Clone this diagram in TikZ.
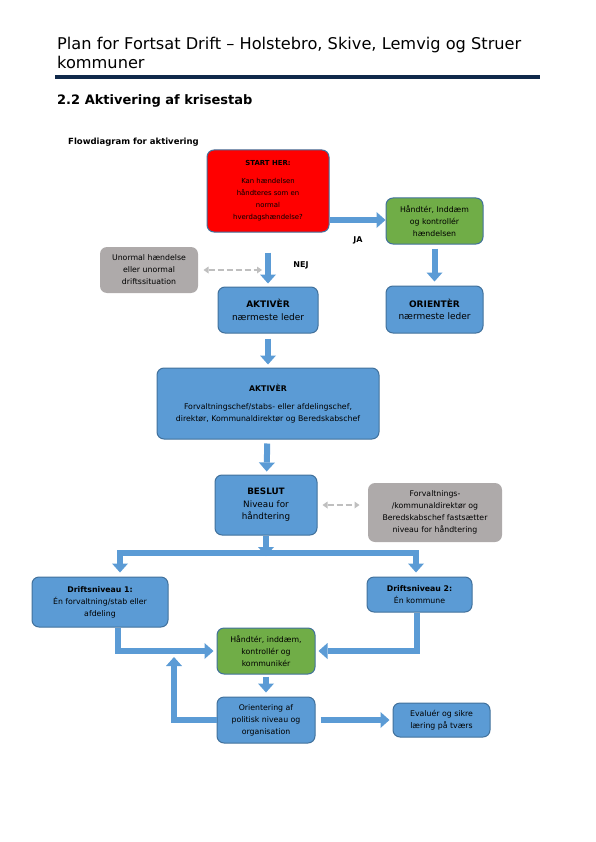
\documentclass[tikz,border=0pt]{standalone}
\usepackage{fontspec}
\setmainfont{DejaVu Sans}
\usetikzlibrary{arrows.meta}
\definecolor{boxblue}{HTML}{5B9BD5}
\definecolor{boxedge}{HTML}{41719C}
\definecolor{alarmred}{HTML}{FF0000}
\definecolor{okgreen}{HTML}{70AD47}
\definecolor{notegrey}{HTML}{AEAAAA}
\definecolor{hintgrey}{HTML}{BFBFBF}
\definecolor{rulenavy}{HTML}{10294A}
\tikzset{
  box node/.style={
    rounded corners=7pt,
    draw=boxedge, line width=1pt,
    fill=boxblue,
    align=center,
    font=\fontsize{7.8}{12}\selectfont,
    inner sep=2pt,
  },
  note node/.style={box node, draw=none, fill=notegrey},
  flow line/.style={draw=boxblue, line width=6pt},
  flow arrow/.style={
    flow line,
    -{Triangle[width=16pt,length=9pt,line width=0pt]},
  },
  hint arrow/.style={
    draw=hintgrey, line width=2.5pt, dash pattern=on 6pt off 3pt,
    {Triangle[width=7pt,length=5pt,line width=0pt]}-{Triangle[width=7pt,length=5pt,line width=0pt]},
  },
}

\begin{document}
\begin{tikzpicture}[x=1pt, y=-1pt]
        \useasboundingbox (0,0) rectangle (595,842);

        % page heading
        \node[anchor=base west, inner sep=0, font=\fontsize{16.2}{20}\selectfont] (title)  at (57,50) {Plan for Fortsat Drift – Holstebro, Skive, Lemvig og Struer};
        \node[anchor=base west, inner sep=0, font=\fontsize{16.2}{20}\selectfont] (title2) at (57,69) {kommuner};
        \draw[rulenavy, line width=4.5pt] (55,77) -- (540,77);
        \node[anchor=base west, inner sep=0, font=\bfseries\fontsize{13}{15}\selectfont] (section)   at (57,105)  {2.2 Aktivering af krisestab};
        \node[anchor=base west, inner sep=0, font=\bfseries\fontsize{8.5}{10}\selectfont] (flowtitle) at (68,145) {Flowdiagram for aktivering};

        % boxes
        \node[box node, fill=alarmred, minimum width=122pt, minimum height=82pt, font=\fontsize{6.9}{12}\selectfont] (start) at (268,191)
          {\textbf{START HER:}\\[6pt] Kan hændelsen\\ håndteres som en\\ normal\\ hverdagshændelse?};
        \node[box node, fill=okgreen, minimum width=97pt, minimum height=46pt] (handle1) at (434.5,221)
          {Håndtér, Inddæm\\ og kontrollér\\ hændelsen};
        \node[note node, minimum width=98pt, minimum height=46pt] (unusual) at (149,270)
          {Unormal hændelse\\ eller unormal\\ driftssituation};
        \node[box node, minimum width=100pt, minimum height=46pt, font=\fontsize{9}{12.5}\selectfont] (lead) at (268,310)
          {\textbf{AKTIVÈR}\\ nærmeste leder};
        \node[box node, minimum width=97pt, minimum height=47pt, font=\fontsize{9}{12.5}\selectfont] (orientlead) at (434.5,309.5)
          {\textbf{ORIENTÈR}\\ nærmeste leder};
        \node[box node, minimum width=222pt, minimum height=71pt] (chiefs) at (268,403.5)
          {\textbf{AKTIVÈR}\\[6pt] Forvaltningschef/stabs- eller afdelingschef,\\ direktør, Kommunaldirektør og Beredskabschef};
        \node[box node, minimum width=102pt, minimum height=60pt, font=\fontsize{8.8}{12.5}\selectfont] (decide) at (266,505)
          {\textbf{BESLUT}\\ Niveau for\\ håndtering};
        \node[note node, minimum width=134pt, minimum height=59pt] (fixlevel) at (435,512.5)
          {Forvaltnings-\\ /kommunaldirektør og\\ Beredskabschef fastsætter\\ niveau for håndtering};
        \node[box node, minimum width=136pt, minimum height=50pt] (level1) at (100,602)
          {\textbf{Driftsniveau 1:}\\ Én forvaltning/stab eller\\ afdeling};
        \node[box node, minimum width=105pt, minimum height=35pt] (level2) at (419.5,594.5)
          {\textbf{Driftsniveau 2:}\\ Én kommune};
        \node[box node, fill=okgreen, minimum width=98pt, minimum height=46pt] (handle2) at (266,651)
          {Håndtér, inddæm,\\ kontrollér og\\ kommunikér};
        \node[box node, minimum width=98pt, minimum height=46pt] (inform) at (266,720)
          {Orientering af\\ politisk niveau og\\ organisation};
        \node[box node, minimum width=97pt, minimum height=34pt] (evaluate) at (441.5,720)
          {Evaluér og sikre\\ læring på tværs};

        % labels
        \node[font=\bfseries\fontsize{8}{9}\selectfont] (ja)  at (358,240) {JA};
        \node[font=\bfseries\fontsize{8}{9}\selectfont] (nej) at (301,265) {NEJ};

        % helper points
        \coordinate (split)   at (266,556);
        \coordinate (barL)    at (120,553);
        \coordinate (barR)    at (416,553);
        \coordinate (loopend) at (174,657);

        % arrows
        \draw[flow arrow] ([yshift=-29pt]start.east) -- ([yshift=-29pt]start.east -| handle1.west);
        \draw[flow arrow, shorten <=20pt, shorten >=3pt] (start) -- (lead);
        \draw[flow arrow, shorten <=4pt, shorten >=4pt] (handle1) -- (orientlead);
        \draw[hint arrow, shorten <=5pt, shorten >=6pt] (unusual.east) -- (unusual.east -| lead);
        \draw[flow arrow, shorten <=5pt, shorten >=3pt] (lead) -- (chiefs);
        \draw[flow arrow, shorten <=4pt, shorten >=3pt] (chiefs) -- (decide);
        \draw[hint arrow, shorten <=5pt, shorten >=8pt] (decide) -- (fixlevel.west |- decide);
        \draw[flow line, line cap=rect] (barL) -- (barR);
        \draw[flow arrow] (decide.south) -- (split);
        \draw[flow arrow, shorten >=4pt] (barL) -- (barL |- level1.north);
        \draw[flow arrow, shorten >=4pt] (barR) -- (barR |- level2.north);
        \draw[flow arrow, shorten >=3pt] ([xshift=18pt]level1.south) |- (handle2.west);
        \draw[flow arrow, shorten >=3pt] ([xshift=-3pt]level2.south) |- (handle2.east);
        \draw[flow arrow, shorten <=2pt, shorten >=4pt] (handle2) -- (inform);
        \draw[flow arrow] (inform.west) -| (loopend);
        \draw[flow arrow, shorten <=5pt, shorten >=3pt] (inform) -- (evaluate);
\end{tikzpicture}
\end{document}
